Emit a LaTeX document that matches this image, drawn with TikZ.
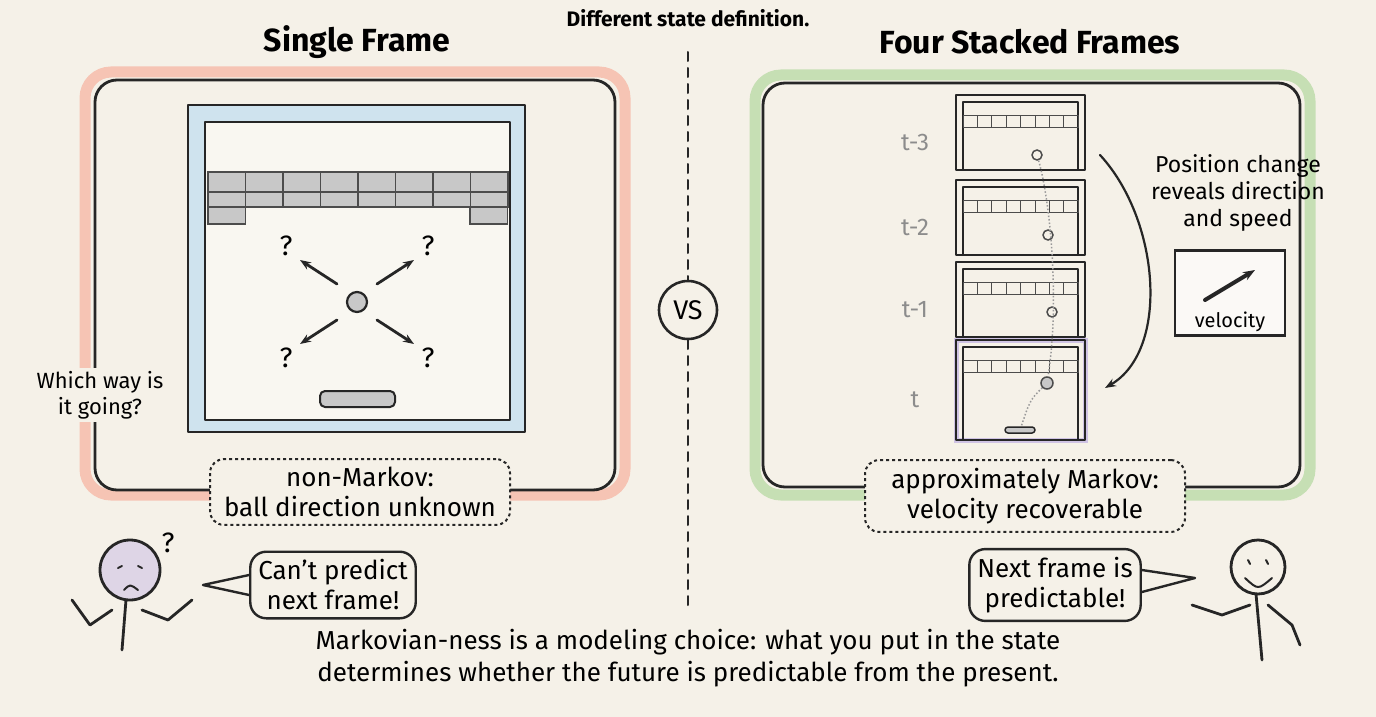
\documentclass[tikz,border=0pt]{standalone}
\usepackage{fontspec}
\setmainfont{Fira Sans}
\usepackage{xcolor}
\usetikzlibrary{positioning,arrows.meta}
\definecolor{paper}{HTML}{F5F1E8}
\definecolor{pinkline}{HTML}{F6C4B4}
\definecolor{greenline}{HTML}{C6DFB4}
\definecolor{screenblue}{HTML}{CFE3EE}
\definecolor{brickgray}{HTML}{C8C8C8}
\definecolor{purpleline}{HTML}{CFC3E4}
\begin{document}
\begin{tikzpicture}[x=1pt,y=-1pt,
    ink/.style={draw=black!85,line width=2.8pt,line cap=round,line join=round},
    panel/.style={ink,rounded corners=22pt},
    halo/.style={line width=11pt,rounded corners=26pt},
    note/.style={draw=black!85,line width=2pt,dashed,rounded corners=14pt,fill=paper,align=center,font=\fontsize{26}{30}\selectfont,inner sep=8pt},
    bubble/.style={draw=black!85,line width=2.4pt,rounded corners=16pt,fill=paper,align=center,font=\fontsize{26}{30}\selectfont,inner sep=8pt},
    title/.style={font=\bfseries\fontsize{32}{36}\selectfont},
    tlabel/.style={text=black!45,font=\fontsize{24}{28}\selectfont},
    brick/.style={draw=black!70,line width=1.2pt,fill=brickgray},
    arr/.style={ink,-{Stealth[length=11pt]}}]
\fill[paper] (0,0) rectangle (1376,717);
\useasboundingbox (0,0) rectangle (1376,717);
%% titles
\node[font=\bfseries\fontsize{21}{24}\selectfont] (head) at (688,18) {Different state definition.};
\node[title] (single) at (357,42) {Single Frame};
\node[title] (four) at (1030,42) {Four Stacked Frames};
%% divider
\coordinate (dtop) at (688,52);
\coordinate (dbot) at (688,610);
\draw[ink,line width=2pt,dash pattern=on 9pt off 7pt] (dtop) -- (dbot);
\node[circle,draw=black!85,line width=2.6pt,fill=paper,minimum size=58pt,font=\fontsize{27}{30}\selectfont] (vs) at (688,310) {VS};
%% left panel
\draw[halo,pinkline] (85,72) rectangle (625,495);
\draw[panel] (95,80) rectangle (615,490);
\fill[screenblue] (188,105) rectangle (525,432);
\draw[ink,line width=2pt] (188,105) rectangle (525,432);
\fill[paper!60!white] (205,122) rectangle (510,420);
\draw[ink,line width=2pt] (205,122) rectangle (510,420);
\foreach \i in {0,...,7}
  \draw[brick] (208+37.5*\i,172) rectangle +(37.5,20);
\foreach \i in {0,...,7}
  \draw[brick] (208+37.5*\i,192) rectangle +(37.5,15);
\draw[brick] (208,207) rectangle +(37.5,17);
\draw[brick] (470,207) rectangle +(37.5,17);
\node[circle,draw=black!85,line width=2.2pt,fill=brickgray,minimum size=20pt,inner sep=0] (ball) at (357,302) {};
\foreach \dx/\dy/\n in {-1/-1/a,1/-1/b,-1/1/c,1/1/d}{
  \coordinate (s\n) at (357+20*\dx,302+18*\dy);
  \coordinate (e\n) at (357+57*\dx,302+42*\dy);
  \draw[arr] (s\n) -- (e\n);
  \node[font=\fontsize{28}{30}\selectfont] (q\n) at (357+71*\dx,302+56*\dy) {?};
}
\draw[ink,line width=2pt,fill=brickgray,rounded corners=5pt] (320,391) rectangle (395,407);
\node[align=center,fill=paper,font=\fontsize{22}{26}\selectfont] (which) at (100,395) {Which way is\\it going?};
\node[note,minimum width=300pt] (nonmk) at (360,492) {non-Markov:\\ball direction unknown};
%% right panel
\draw[halo,greenline] (755,75) rectangle (1310,495);
\draw[panel] (763,83) rectangle (1300,487);
\foreach \y/\h/\t/\c in {95/75/t-3/paper,180/75/t-2/paper,262/75/t-1/paper,340/100/t/purpleline}{
  \draw[line width=5pt,\c] (956,\y) rectangle (1085,\y+\h);
  \draw[ink,line width=2pt] (956,\y) rectangle (1085,\y+\h);
  \draw[ink,line width=1.2pt] (963,\y+7) rectangle (1078,\y+\h);
  \foreach \i in {0,...,7}
    \draw[draw=black!70,line width=1pt] (963+14.4*\i,\y+20) rectangle +(14.4,12);
  \node[tlabel] at (915,\y+\h/2+10) {\t};
}
\node[circle,draw=black!70,line width=1.5pt,minimum size=10pt,inner sep=0] (b3) at (1037,155) {};
\node[circle,draw=black!70,line width=1.5pt,minimum size=10pt,inner sep=0] (b2) at (1048,235) {};
\node[circle,draw=black!70,line width=1.5pt,minimum size=10pt,inner sep=0] (b1) at (1052,312) {};
\node[circle,draw=black!70,line width=1.5pt,fill=brickgray,minimum size=12pt,inner sep=0] (b0) at (1047,383) {};
\coordinate (pad) at (1020,430);
\draw[black!40,line width=1.5pt,dotted] (b3) .. controls (1050,200) and (1060,300) .. (b0) .. controls (1030,400) .. (pad);
\draw[ink,line width=1.5pt,fill=brickgray,rounded corners=3pt] (1005,427) rectangle (1035,433);
\coordinate (cs) at (1100,155);
\coordinate (ce) at (1105,388);
\draw[arr,line width=2.2pt] (cs) .. controls (1160,220) and (1170,350) .. (ce);
\node[align=center,font=\fontsize{23}{27}\selectfont] (reveal) at (1238,193) {Position change\\reveals direction\\and speed};
\node[draw=black!85,line width=2.2pt,fill=white!60!paper,minimum width=110pt,minimum height=85pt] (velbox) at (1230,293) {};
\coordinate (va) at (1205,300);
\coordinate (vb) at (1255,270);
\draw[ink,line width=4pt,-{Stealth[length=12pt]}] (va) -- (vb);
\node[font=\fontsize{20}{22}\selectfont] (vel) at (1230,322) {velocity};
\node[note,minimum width=320pt] (apmk) at (1025,496) {approximately Markov:\\velocity recoverable};
%% left person
\draw[ink,fill=purpleline!60!paper] (130,570) circle (30pt);
\node[font=\fontsize{28}{30}\selectfont] (qp) at (168,543) {?};
\draw[ink,line width=2pt] (118,568) -- (122,566) (138,566) -- (142,568);
\draw[ink,line width=2pt] (124,590) .. controls (130,584) .. (138,590);
\draw[ink] (126,600) -- (122,650) (112,610) -- (90,625) -- (72,600) (142,610) -- (168,620) -- (192,600);
\node[bubble] (cant) at (333,585) {Can't predict\\next frame!};
\coordinate (cantt) at (203,585);
\draw[ink,line width=2.4pt] (cant.west |- 0,575) -- (cantt) -- (cant.west |- 0,595);
%% right person
\draw[ink,fill=paper] (1258,567) circle (27pt);
\draw[ink,line width=2pt] (1248,560) -- (1250,564) (1266,560) -- (1268,564);
\draw[ink,line width=2pt] (1245,578) .. controls (1258,590) .. (1272,578);
\draw[ink] (1256,594) -- (1262,660) (1250,605) -- (1222,615) -- (1192,605) (1268,605) -- (1292,625) -- (1300,645);
\node[bubble] (next) at (1055,585) {Next frame is\\predictable!};
\coordinate (nextt) at (1195,578);
\draw[ink,line width=2.4pt] (next.east |- 0,570) -- (nextt) -- (next.east |- 0,592);
%% conclusion
\node[align=center,font=\fontsize{26}{32}\selectfont] (concl) at (688,658) {Markovian-ness is a modeling choice: what you put in the state\\determines whether the future is predictable from the present.};
\end{tikzpicture}
\end{document}
